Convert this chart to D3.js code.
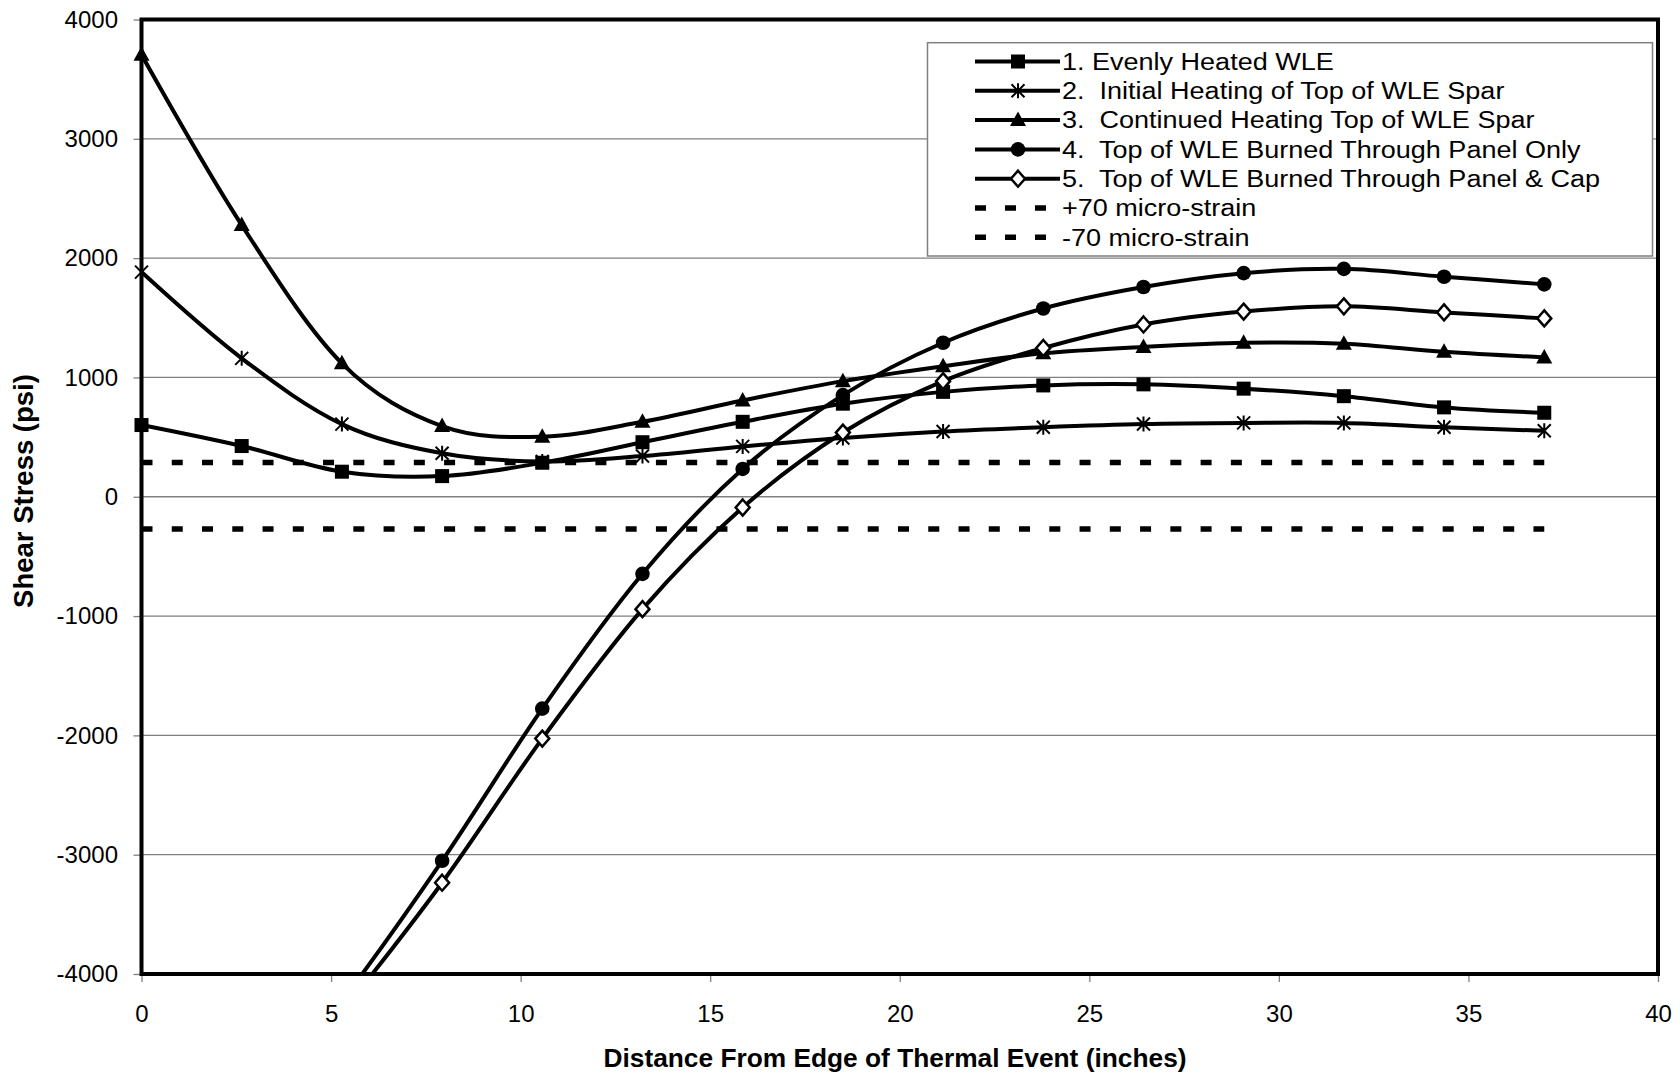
<!DOCTYPE html>
<html><head><meta charset="utf-8">
<script src="https://cdn.jsdelivr.net/npm/d3@7"></script>
<style>
body{margin:0;background:#fff;}
svg{display:block;}
text{font-family:"Liberation Sans", Arial, sans-serif; fill:#000; white-space:pre;}
</style>
</head><body>
<svg id="chart" width="1680" height="1073"></svg>
<script>
// ---------------- DATA ----------------
const xValues = [0, 2.643, 5.286, 7.929, 10.571, 13.214, 15.857, 18.5, 21.143, 23.786, 26.429, 29.071, 31.714, 34.357, 37];
const seriesNames = [
  "1. Evenly Heated WLE",
  "2.  Initial Heating of Top of WLE Spar",
  "3.  Continued Heating Top of WLE Spar",
  "4.  Top of WLE Burned Through Panel Only",
  "5.  Top of WLE Burned Through Panel & Cap"
];
const evenlyHeated   = [601, 425, 210, 173, 285, 457, 628, 780, 879, 933, 942, 906, 843, 749, 704];
const initialHeating = [1883, 1160, 609, 364, 295, 341, 422, 493, 547, 583, 610, 619, 619, 582, 553];
const continuedHeating = [3704, 2277, 1118, 592, 503, 628, 807, 969, 1094, 1202, 1256, 1291, 1283, 1215, 1168];
const burnedPanel    = [-6200, -5300, -4230, -3051, -1776, -646, 233, 852, 1291, 1578, 1758, 1874, 1910, 1844, 1780];
const burnedPanelCap = [-6250, -5330, -4320, -3235, -2027, -942, -90, 538, 969, 1247, 1444, 1552, 1596, 1545, 1495];
const markerTypes = ["square", "star", "triangle", "circle", "diamond"];

const strainNames = ["+70 micro-strain", "-70 micro-strain"];
const strainX = [0, 37];
const plus70  = [288, 288];
const minus70 = [-270, -270];

const xTicks = [0, 5, 10, 15, 20, 25, 30, 35, 40];
const yTicks = [-4000, -3000, -2000, -1000, 0, 1000, 2000, 3000, 4000];
const xTitle = "Distance From Edge of Thermal Event (inches)";
const yTitle = "Shear Stress (psi)";

// ---------------- LAYOUT ----------------
const L = 141.5, R = 1658, T = 19.5, B = 974;
const svg = d3.select("#chart");
const x = d3.scaleLinear().domain([0, 40]).range([L, R]);
const y = d3.scaleLinear().domain([-4000, 4000]).range([B, T]);

svg.append("defs").append("clipPath").attr("id", "plotclip")
  .append("rect").attr("x", L).attr("y", T).attr("width", R - L).attr("height", B - T);

// gridlines
svg.append("g").selectAll("line").data(yTicks).join("line")
  .attr("x1", L).attr("x2", R)
  .attr("y1", d => y(d)).attr("y2", d => y(d))
  .attr("stroke", "#808080").attr("stroke-width", 1.3);

// axes
const yAxis = svg.append("g").attr("transform", `translate(${L},0)`)
  .call(d3.axisLeft(y).tickValues(yTicks).tickSize(8).tickPadding(15.5).tickFormat(d => String(d)));
yAxis.select(".domain").remove();
yAxis.selectAll(".tick line").attr("stroke", "#808080").attr("stroke-width", 1.3);
yAxis.selectAll(".tick text").attr("font-size", 24).attr("font-family", "Liberation Sans, Arial, sans-serif").attr("fill", "#000");

const xAxis = svg.append("g").attr("transform", `translate(0,${B})`)
  .call(d3.axisBottom(x).tickValues(xTicks).tickSize(8).tickPadding(23).tickFormat(d => String(d)));
xAxis.select(".domain").remove();
xAxis.selectAll(".tick line").attr("stroke", "#808080").attr("stroke-width", 1.3);
xAxis.selectAll(".tick text").attr("font-size", 24).attr("font-family", "Liberation Sans, Arial, sans-serif").attr("fill", "#000");

// strain dashed lines
const plotG = svg.append("g").attr("clip-path", "url(#plotclip)");
const straightLine = d3.line().x(d => x(d[0])).y(d => y(d[1]));
[plus70, minus70].forEach(vals => {
  plotG.append("path")
    .attr("d", straightLine(strainX.map((xv, i) => [xv, vals[i]])))
    .attr("fill", "none").attr("stroke", "#000").attr("stroke-width", 5.5)
    .attr("stroke-dasharray", "11,19.26");
});

// series
const allSeries = [evenlyHeated, initialHeating, continuedHeating, burnedPanel, burnedPanelCap];
const smooth = d3.line().x(d => x(d[0])).y(d => y(d[1])).curve(d3.curveCardinal.tension(0));

function marker(g, type, cx, cy, s) {
  s = s || 1;
  if (type === "square") {
    g.append("rect").attr("x", cx - 7 * s).attr("y", cy - 7 * s).attr("width", 14 * s).attr("height", 14 * s).attr("fill", "#000");
  } else if (type === "star") {
    const a = 6.5 * s;
    g.append("path").attr("d", `M${cx},${cy - 7.5 * s}L${cx},${cy + 7.5 * s}M${cx - a},${cy - a}L${cx + a},${cy + a}M${cx - a},${cy + a}L${cx + a},${cy - a}`)
      .attr("stroke", "#000").attr("stroke-width", 2).attr("fill", "none");
  } else if (type === "triangle") {
    g.append("path").attr("d", `M${cx},${cy - 8.5 * s}L${cx + 8 * s},${cy + 6 * s}L${cx - 8 * s},${cy + 6 * s}Z`).attr("fill", "#000");
  } else if (type === "circle") {
    g.append("circle").attr("cx", cx).attr("cy", cy).attr("r", 7.3 * s).attr("fill", "#000");
  } else if (type === "diamond") {
    g.append("path").attr("d", `M${cx},${cy - 8 * s}L${cx + 7 * s},${cy}L${cx},${cy + 8 * s}L${cx - 7 * s},${cy}Z`)
      .attr("fill", "#fff").attr("stroke", "#000").attr("stroke-width", 2.5);
  }
}

allSeries.forEach((vals, si) => {
  const pts = xValues.map((xv, i) => [xv, vals[i]]);
  plotG.append("path").attr("d", smooth(pts))
    .attr("fill", "none").attr("stroke", "#000").attr("stroke-width", 4).attr("stroke-linejoin", "round");
  const mg = svg.append("g");
  pts.filter(p => p[1] >= -4000 && p[1] <= 4000).forEach(p => marker(mg, markerTypes[si], x(p[0]), y(p[1])));
});

// plot border
svg.append("rect").attr("x", L).attr("y", T).attr("width", R - L).attr("height", B - T)
  .attr("fill", "none").attr("stroke", "#000").attr("stroke-width", 4);

// axis titles
svg.append("text").attr("x", 895).attr("y", 1067)
  .attr("text-anchor", "middle").attr("font-weight", "bold").attr("font-size", 26.3).text(xTitle);
svg.append("text").attr("transform", `translate(33,491) rotate(-90)`)
  .attr("text-anchor", "middle").attr("font-weight", "bold").attr("font-size", 27.5).text(yTitle);

// legend
const lg = svg.append("g");
lg.append("rect").attr("x", 927.5).attr("y", 42.7).attr("width", 1652.5 - 927.5).attr("height", 256 - 42.7)
  .attr("fill", "#fff").attr("stroke", "#808080").attr("stroke-width", 1.5);
const rowY0 = 61.5, rowStep = 29.3;
const legendLabels = seriesNames.concat(strainNames);
legendLabels.forEach((name, i) => {
  const cy = rowY0 + i * rowStep;
  if (i < 5) {
    lg.append("line").attr("x1", 975).attr("x2", 1060).attr("y1", cy).attr("y2", cy)
      .attr("stroke", "#000").attr("stroke-width", 4);
    marker(lg, markerTypes[i], 1018, cy);
  } else {
    lg.append("line").attr("x1", 975).attr("x2", 1050).attr("y1", cy).attr("y2", cy)
      .attr("stroke", "#000").attr("stroke-width", 5.5).attr("stroke-dasharray", "11,19");
  }
  lg.append("text").attr("transform", `translate(1062,${cy + 8.2}) scale(1.175,1)`)
    .attr("font-size", 23).attr("xml:space", "preserve").text(name);
});
</script>
</body></html>
